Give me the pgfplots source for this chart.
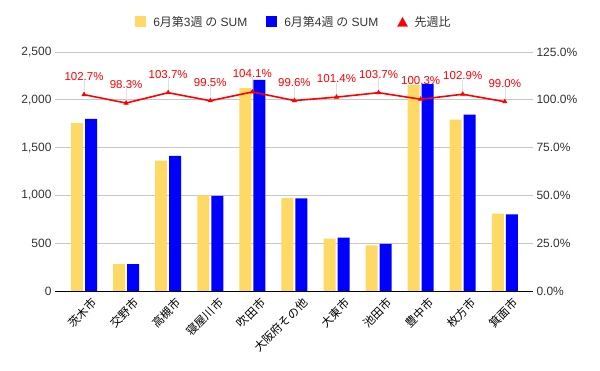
\documentclass[border=0pt]{standalone}
\usepackage{pgfplots}
\pgfplotsset{compat=1.18}
\usepackage{fontspec}
\setmainfont{Liberation Sans}
\newfontfamily\cjk{Noto Sans CJK JP}
\definecolor{yel}{HTML}{FFD966}
\definecolor{blu}{HTML}{0000FF}
\definecolor{rd}{HTML}{FF0000}
\begin{document}
\begin{tikzpicture}
\useasboundingbox (0pt,0pt) rectangle (600pt,371pt);
\begin{axis}[
  at={(55pt,80pt)}, anchor=south west, scale only axis,
  width=478pt, height=239pt,
  xmin=-0.69, xmax=10.67, ymin=0, ymax=2500,
  ytick={0,500,...,2500},
  ymajorgrids, grid style={black!22, line width=0.6pt},
  axis x line*=bottom, axis y line*=left,
  y axis line style={draw=none},
  x axis line style={black, line width=0.8pt, -},
  tick style={draw=none},
  ybar=2pt, bar width=12pt,
  xtick={0,...,10},
  xticklabels={茨木市,交野市,高槻市,寝屋川市,吹田市,大阪府その他,大東市,池田市,豊中市,枚方市,箕面市},
  xticklabel style={font=\cjk\fontsize{11.5}{12}\selectfont, rotate=45, anchor=north east, inner sep=0pt, xshift=4pt, yshift=-6pt},
  yticklabel style={font=\fontsize{12}{13}\selectfont, color=black!80},
  /pgf/number format/assume math mode=true,
  /pgf/number format/.cd, 1000 sep={,},
]
\addplot[fill=yel, draw=none] coordinates {(0,1757) (1,281) (2,1365) (3,1000) (4,2122) (5,971) (6,549) (7,476) (8,2157) (9,1792) (10,809)};
\addplot[fill=blu, draw=none] coordinates {(0,1800) (1,281) (2,1414) (3,995) (4,2208) (5,969) (6,559) (7,494) (8,2167) (9,1844) (10,801)};
\end{axis}
\begin{axis}[
  at={(55pt,80pt)}, anchor=south west, scale only axis,
  width=478pt, height=239pt,
  xmin=-0.69, xmax=10.67, ymin=0, ymax=125,
  ytick={0,25,...,125},
  axis x line=none, axis y line*=right,
  y axis line style={draw=none},
  tick style={draw=none},
  yticklabel={\pgfmathprintnumber[fixed,fixed zerofill,precision=1,assume math mode=true]{\tick}\%},
  yticklabel style={font=\fontsize{12}{13}\selectfont, color=black!80},
  legend style={at={(0.5,1)}, anchor=center, yshift=30pt, draw=none, fill=none,
    legend columns=-1, font=\fontsize{12}{13}\selectfont, text=black!80,
    /tikz/every odd column/.append style={column sep=5pt},
    /tikz/every even column/.append style={column sep=17pt}},
  legend image code/.code={\fill[#1] (0pt,-5.5pt) rectangle (11pt,5.5pt);},
  clip=false,
]
\addlegendimage{fill=yel, draw=none}
\addlegendentry{6{\cjk 月第}3{\cjk 週 の} SUM}
\addlegendimage{fill=blu, draw=none}
\addlegendentry{6{\cjk 月第}4{\cjk 週 の} SUM}
\addlegendimage{legend image code/.code={\fill[rd] (0pt,-4.5pt) -- (10pt,-4.5pt) -- (5pt,4.5pt) -- cycle;}}
\addlegendentry{\cjk 先週比}
\addplot[rd, line width=1.6pt, mark=triangle*, mark size=2.5pt, mark options={line width=0.5pt},
  error bars/.cd, y dir=plus, y fixed=7.5, error mark=none,
  error bar style={black!12, line width=0.6pt}]
  coordinates {(0,102.7) (1,98.3) (2,103.7) (3,99.5) (4,104.1) (5,99.6) (6,101.4) (7,103.7) (8,100.3) (9,102.9) (10,99.0)};
\addplot[draw=none, mark=none, nodes near coords={\pgfmathprintnumber[fixed,fixed zerofill,precision=1,assume math mode=true]{\pgfplotspointmeta}\%},
  point meta=y,
  every node near coord/.append style={font=\fontsize{11.5}{12}\selectfont, text=rd, anchor=south, yshift=13pt, inner sep=1pt}]
  coordinates {(0,102.7) (1,98.3) (2,103.7) (3,99.5) (4,104.1) (5,99.6) (6,101.4) (7,103.7) (8,100.3) (9,102.9) (10,99.0)};
\end{axis}
\end{tikzpicture}
\end{document}
